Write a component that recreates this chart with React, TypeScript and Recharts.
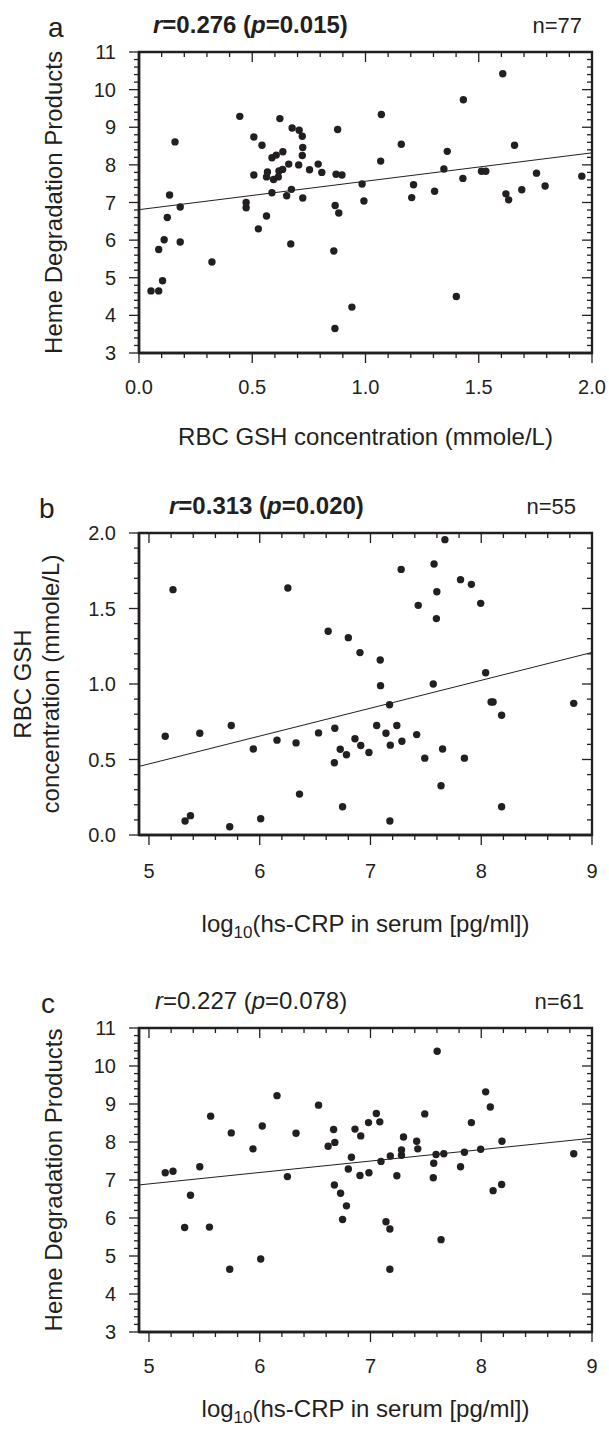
import { ScatterChart, Scatter, XAxis, YAxis, ReferenceLine, ReferenceArea } from "recharts";

const INK = "#231f20";
const FONT = '"Liberation Sans", Arial, Helvetica, sans-serif';

// panel a: RBC GSH (mmole/L) vs heme degradation products
const gshA = [
  1.606, 0.445, 0.622, 1.07, 1.432, 0.159, 0.507, 0.543, 0.676, 0.707, 0.721, 0.877, 0.723, 0.721, 0.587,
  0.606, 0.635, 1.158, 1.361, 1.658, 1.067, 0.661, 0.705, 0.791, 0.507, 0.567, 0.563, 0.594, 0.615, 0.618,
  0.634, 0.753, 0.807, 0.87, 0.896, 1.346, 1.43, 1.512, 1.531, 1.755, 1.955, 0.985, 1.212, 1.793, 1.69,
  1.305, 1.62, 0.135, 0.587, 0.673, 0.652, 0.723, 1.204, 1.632, 0.473, 0.473, 0.182, 0.125, 0.563, 0.866,
  0.882, 0.993, 0.527, 0.111, 0.087, 0.182, 0.67, 0.86, 0.322, 0.104, 0.053, 0.087, 0.94, 1.401, 0.865,
];
const hemeA = [
  10.42, 9.29, 9.23, 9.34, 9.73, 8.61, 8.74, 8.52, 8.98, 8.92, 8.76, 8.94, 8.46, 8.25, 8.19,
  8.26, 8.35, 8.55, 8.36, 8.52, 8.1, 8.02, 8.0, 8.02, 7.73, 7.81, 7.68, 7.61, 7.68, 7.84,
  7.88, 7.87, 7.8, 7.75, 7.73, 7.89, 7.64, 7.83, 7.83, 7.78, 7.7, 7.49, 7.47, 7.44, 7.34,
  7.3, 7.23, 7.2, 7.26, 7.35, 7.18, 7.12, 7.13, 7.07, 7.0, 6.86, 6.88, 6.6, 6.64, 6.92,
  6.72, 7.04, 6.3, 6.01, 5.75, 5.95, 5.9, 5.71, 5.42, 4.92, 4.65, 4.65, 4.22, 4.5, 3.65,
];
const fitA = [{ x: 0, y: 6.81 }, { x: 2, y: 8.32 }];

// panel b: log10 hs-CRP vs RBC GSH
const crpB = [
  5.217, 6.254, 7.672, 7.574, 7.277, 7.813, 7.911, 7.599, 7.431, 7.995, 7.595, 6.618, 6.8, 6.905, 7.088,
  7.091, 7.567, 8.04, 8.089, 8.107, 8.835, 7.172, 8.184, 5.147, 5.459, 5.743, 5.942, 6.156, 6.328, 6.531,
  6.678, 6.674, 6.727, 6.783, 6.86, 6.912, 6.986, 7.056, 7.14, 7.179, 7.238, 7.284, 7.417, 7.49, 7.651,
  7.848, 7.637, 6.359, 5.326, 5.375, 5.729, 6.009, 6.748, 7.175, 8.184,
];
const gshB = [
  1.625, 1.636, 1.956, 1.795, 1.759, 1.691, 1.66, 1.611, 1.521, 1.534, 1.433, 1.349, 1.307, 1.208, 1.159,
  0.989, 1.0, 1.075, 0.881, 0.881, 0.872, 0.863, 0.793, 0.654, 0.674, 0.725, 0.57, 0.628, 0.61, 0.676,
  0.707, 0.478, 0.568, 0.531, 0.637, 0.593, 0.546, 0.725, 0.674, 0.595, 0.725, 0.621, 0.665, 0.509, 0.57,
  0.509, 0.326, 0.271, 0.093, 0.128, 0.055, 0.108, 0.187, 0.093, 0.187,
];
const fitB = [{ x: 4.91, y: 0.454 }, { x: 9, y: 1.209 }];

// panel c: log10 hs-CRP vs heme degradation products
const crpC = [
  7.602, 6.156, 6.531, 8.04, 8.082, 5.557, 7.053, 7.49, 6.982, 7.084, 7.911, 6.023, 5.743, 6.328, 6.667,
  6.86, 6.912, 7.298, 7.417, 8.187, 5.939, 6.618, 6.678, 7.427, 7.28, 7.995, 7.848, 8.835, 7.592, 7.662,
  6.828, 7.179, 7.28, 7.095, 5.147, 5.217, 5.459, 6.25, 6.8, 6.905, 6.986, 7.238, 7.567, 7.571, 7.813,
  6.674, 6.73, 6.783, 6.748, 5.375, 5.322, 5.546, 7.14, 7.175, 8.107, 8.184, 7.637, 6.009, 5.729, 7.175,
];
const hemeC = [
  10.39, 9.22, 8.97, 9.32, 8.92, 8.68, 8.75, 8.74, 8.51, 8.53, 8.51, 8.42, 8.24, 8.23, 8.33,
  8.34, 8.16, 8.13, 8.02, 8.02, 7.82, 7.89, 7.99, 7.82, 7.79, 7.81, 7.73, 7.69, 7.67, 7.69,
  7.6, 7.63, 7.65, 7.49, 7.19, 7.23, 7.35, 7.09, 7.29, 7.12, 7.19, 7.11, 7.06, 7.44, 7.35,
  6.87, 6.65, 6.32, 5.96, 6.6, 5.75, 5.76, 5.9, 5.71, 6.72, 6.88, 5.43, 4.92, 4.65, 4.65,
];
const fitC = [{ x: 4.91, y: 6.87 }, { x: 9, y: 8.1 }];

// tick labels
const gshTicksX = [0, 0.5, 1, 1.5, 2];
const gshTicksY = [0, 0.5, 1, 1.5, 2];
const hemeTicks = [3, 4, 5, 6, 7, 8, 9, 10, 11];
const crpTicks = [5, 6, 7, 8, 9];

const steps = (from: number, to: number, step: number) => {
  const out: number[] = [];
  for (let i = 0; from + i * step <= to + 1e-9; i++) out.push(Math.round((from + i * step) * 1000) / 1000);
  return out;
};

const zip = (xs: number[], ys: number[]) => xs.map((x, i) => ({ x, y: ys[i] }));

const L = 139;
const R = 592;

type PanelProps = {
  top: number;
  height: number;
  plotTop: number;
  plotBottom: number;
  data: { x: number; y: number }[];
  fit: { x: number; y: number }[];
  xDomain: [number, number];
  yDomain: [number, number];
  xMajor: number[];
  xMinor: number;
  yMajor: number[];
  yMinor: number;
  xFmt: (v: number) => string;
  yFmt: (v: number) => string;
  xLabelDy: number;
};

const isMajor = (list: number[], v: number) => list.some((m) => Math.abs(m - v) < 1e-6);

function Panel(p: PanelProps) {
  const T = p.plotTop;
  const B = p.plotBottom;

  // bottom ticks point out, the mirrored top ones point in
  const XTick = (props: any) => {
    const x = Number(props.x);
    const v = props.payload.value;
    const major = isMajor(p.xMajor, v);
    const len = major ? 10 : 5;
    return (
      <g>
        <line x1={x} x2={x} y1={B} y2={B + len} stroke={INK} strokeWidth={1.3} />
        <line x1={x} x2={x} y1={T} y2={T + len} stroke={INK} strokeWidth={1.3} />
        {major && (
          <text x={x} y={B + p.xLabelDy} textAnchor="middle" fontSize={20} fill={INK} fontFamily={FONT}>
            {p.xFmt(v)}
          </text>
        )}
      </g>
    );
  };

  // left ticks point out, the mirrored right ones point in
  const YTick = (props: any) => {
    const y = Number(props.y);
    const v = props.payload.value;
    const major = isMajor(p.yMajor, v);
    const len = major ? 10 : 5;
    return (
      <g>
        <line x1={L - len} x2={L} y1={y} y2={y} stroke={INK} strokeWidth={1.3} />
        <line x1={R - len} x2={R} y1={y} y2={y} stroke={INK} strokeWidth={1.3} />
        {major && (
          <text x={116} y={y + 7} textAnchor="end" fontSize={20} fill={INK} fontFamily={FONT}>
            {p.yFmt(v)}
          </text>
        )}
      </g>
    );
  };

  return (
    <div style={{ position: "absolute", left: 0, top: p.top, width: 609, height: p.height }}>
      <ScatterChart
        width={609}
        height={p.height}
        margin={{ top: T, right: 609 - R, bottom: 0, left: 0 }}
      >
        <XAxis
          type="number"
          dataKey="x"
          domain={p.xDomain}
          ticks={steps(p.xMajor[0], p.xDomain[1], p.xMinor)}
          interval={0}
          allowDataOverflow
          axisLine={{ stroke: INK, strokeWidth: 2.6 }}
          tickLine={false}
          tick={XTick}
          height={p.height - B}
        />
        <YAxis
          type="number"
          dataKey="y"
          domain={p.yDomain}
          ticks={steps(p.yDomain[0], p.yDomain[1], p.yMinor)}
          interval={0}
          allowDataOverflow
          axisLine={{ stroke: INK, strokeWidth: 2.6 }}
          tickLine={false}
          tick={YTick}
          width={L}
        />
        <ReferenceArea
          x1={p.xDomain[0]}
          x2={p.xDomain[1]}
          y1={p.yDomain[0]}
          y2={p.yDomain[1]}
          ifOverflow="visible"
          fill="none"
          fillOpacity={0}
          stroke={INK}
          strokeWidth={2.3}
          strokeOpacity={1}
        />
        <ReferenceLine segment={p.fit} stroke={INK} strokeWidth={1} />
        <Scatter
          data={p.data}
          isAnimationActive={false}
          shape={(s: any) => <circle cx={s.cx} cy={s.cy} r={3.7} fill={INK} />}
        />
      </ScatterChart>
    </div>
  );
}

const f1 = (v: number) => v.toFixed(1);
const f0 = (v: number) => v.toFixed(0);

export default function App() {
  const t = { fontFamily: FONT, fill: INK };
  return (
    <div style={{ position: "absolute", left: 0, top: 0, width: 609, height: 1429, background: "#fff" }}>
      <Panel
        top={0}
        height={470}
        plotTop={52}
        plotBottom={353}
        data={zip(gshA, hemeA)}
        fit={fitA}
        xDomain={[0, 2]}
        yDomain={[3, 11]}
        xMajor={gshTicksX}
        xMinor={0.1}
        yMajor={hemeTicks}
        yMinor={0.2}
        xFmt={f1}
        yFmt={f0}
        xLabelDy={41}
      />
      <Panel
        top={470}
        height={490}
        plotTop={63}
        plotBottom={365}
        data={zip(crpB, gshB)}
        fit={fitB}
        xDomain={[4.91, 9]}
        yDomain={[0, 2]}
        xMajor={crpTicks}
        xMinor={0.2}
        yMajor={gshTicksY}
        yMinor={0.1}
        xFmt={f0}
        yFmt={f1}
        xLabelDy={43}
      />
      <Panel
        top={960}
        height={469}
        plotTop={68}
        plotBottom={372}
        data={zip(crpC, hemeC)}
        fit={fitC}
        xDomain={[4.91, 9]}
        yDomain={[3, 11]}
        xMajor={crpTicks}
        xMinor={0.2}
        yMajor={hemeTicks}
        yMinor={0.2}
        xFmt={f0}
        yFmt={f0}
        xLabelDy={41}
      />
      <svg
        width={609}
        height={1429}
        style={{ position: "absolute", left: 0, top: 0, pointerEvents: "none" }}
      >
        {/* panel a */}
        <text x={48} y={37} fontSize={28} {...t}>a</text>
        <text x={153} y={33} fontSize={24} fontWeight="bold" {...t}>
          <tspan fontStyle="italic">r</tspan>=0.276 (<tspan fontStyle="italic">p</tspan>=0.015)
        </text>
        <text x={582} y={33} fontSize={22} textAnchor="end" {...t}>n=77</text>
        <text x={365.5} y={445} fontSize={24} textAnchor="middle" {...t}>RBC GSH concentration (mmole/L)</text>
        <text x={62} y={202.5} fontSize={24} textAnchor="middle" transform="rotate(-90 62 202.5)" {...t}>
          Heme Degradation Products
        </text>

        {/* panel b */}
        <text x={39} y={518} fontSize={28} {...t}>b</text>
        <text x={169} y={514} fontSize={24} fontWeight="bold" {...t}>
          <tspan fontStyle="italic">r</tspan>=0.313 (<tspan fontStyle="italic">p</tspan>=0.020)
        </text>
        <text x={576} y={514} fontSize={22} textAnchor="end" {...t}>n=55</text>
        <text x={365.5} y={932} fontSize={24} textAnchor="middle" {...t}>
          log<tspan fontSize={17} dy={6}>10</tspan>
          <tspan dy={-6}>(hs-CRP in serum [pg/ml])</tspan>
        </text>
        <text x={31} y={684} fontSize={24} textAnchor="middle" transform="rotate(-90 31 684)" {...t}>RBC GSH</text>
        <text x={59} y={684} fontSize={24} textAnchor="middle" transform="rotate(-90 59 684)" {...t}>
          concentration (mmole/L)
        </text>

        {/* panel c */}
        <text x={41} y={1013} fontSize={28} {...t}>c</text>
        <text x={155} y={1009} fontSize={24} {...t}>
          <tspan fontStyle="italic">r</tspan>=0.227 (<tspan fontStyle="italic">p</tspan>=0.078)
        </text>
        <text x={584} y={1009} fontSize={22} textAnchor="end" {...t}>n=61</text>
        <text x={365.5} y={1417} fontSize={24} textAnchor="middle" {...t}>
          log<tspan fontSize={17} dy={6}>10</tspan>
          <tspan dy={-6}>(hs-CRP in serum [pg/ml])</tspan>
        </text>
        <text x={62} y={1180} fontSize={24} textAnchor="middle" transform="rotate(-90 62 1180)" {...t}>
          Heme Degradation Products
        </text>
      </svg>
    </div>
  );
}
